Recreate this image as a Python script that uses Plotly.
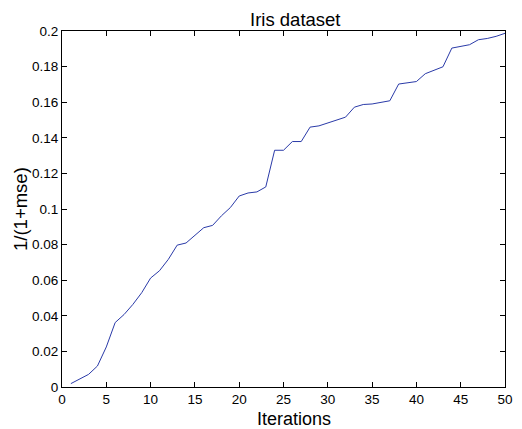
import plotly.graph_objects as go

# Iteration number and fitness value 1/(1+mse)
iteracoes = list(range(1, 51))
fitness = [0.0019, 0.0045, 0.0071, 0.0118, 0.0225, 0.0362, 0.0407, 0.0464, 0.0530, 0.0612,
           0.0653, 0.0717, 0.0797, 0.0809, 0.0850, 0.0895, 0.0908, 0.0962, 0.1008, 0.1073,
           0.1090, 0.1096, 0.1124, 0.1330, 0.1330, 0.1379, 0.1379, 0.1460, 0.1467, 0.1482,
           0.1499, 0.1516, 0.1572, 0.1587, 0.1590, 0.1598, 0.1608, 0.1702, 0.1709, 0.1716,
           0.1760, 0.1778, 0.1799, 0.1904, 0.1915, 0.1923, 0.1951, 0.1958, 0.1970, 0.1987]

x_ticks = [0, 5, 10, 15, 20, 25, 30, 35, 40, 45, 50]
y_ticks = [0, 0.02, 0.04, 0.06, 0.08, 0.1, 0.12, 0.14, 0.16, 0.18, 0.2]
y_labels = ["0", "0.02", "0.04", "0.06", "0.08", "0.1", "0.12", "0.14", "0.16", "0.18", "0.2"]

fig = go.Figure()
fig.add_trace(go.Scatter(x=iteracoes, y=fitness, mode="lines",
                         line=dict(color="#2a3aa8", width=1), showlegend=False))

eixo = dict(showgrid=False, zeroline=False, showline=True, linecolor="black", linewidth=1,
            mirror="allticks", ticks="inside", ticklen=5, tickwidth=1, tickcolor="black",
            tickfont=dict(size=13.5, color="black"))

fig.update_xaxes(range=[0, 50], tickvals=x_ticks, **eixo)
fig.update_yaxes(range=[0, 0.2], tickvals=y_ticks, ticktext=y_labels, **eixo)

# the page body has an 8px margin, so the figure is 8px smaller than the window
fig.update_layout(
    width=514, height=421,
    margin=dict(l=54, r=9, t=23, b=42),
    plot_bgcolor="white", paper_bgcolor="white",
    font=dict(family="Liberation Sans, Arial, sans-serif", color="black"),
)

# titulo e rotulos dos eixos como anotacoes (posicoes como no original)
fig.add_annotation(text="Iris dataset", xref="paper", yref="paper", x=0.527, y=1,
                   xanchor="center", yanchor="bottom", yshift=-1, showarrow=False,
                   font=dict(size=18.5))
fig.add_annotation(text="Iterations", xref="paper", yref="paper", x=0.523, y=0,
                   xanchor="center", yanchor="top", yshift=-20, showarrow=False,
                   font=dict(size=18))
fig.add_annotation(text="1/(1+mse)", xref="paper", yref="paper", x=0, y=0.5,
                   xanchor="center", yanchor="middle", xshift=-42, textangle=-90,
                   showarrow=False, font=dict(size=18.5))

fig.write_html("out.html")
